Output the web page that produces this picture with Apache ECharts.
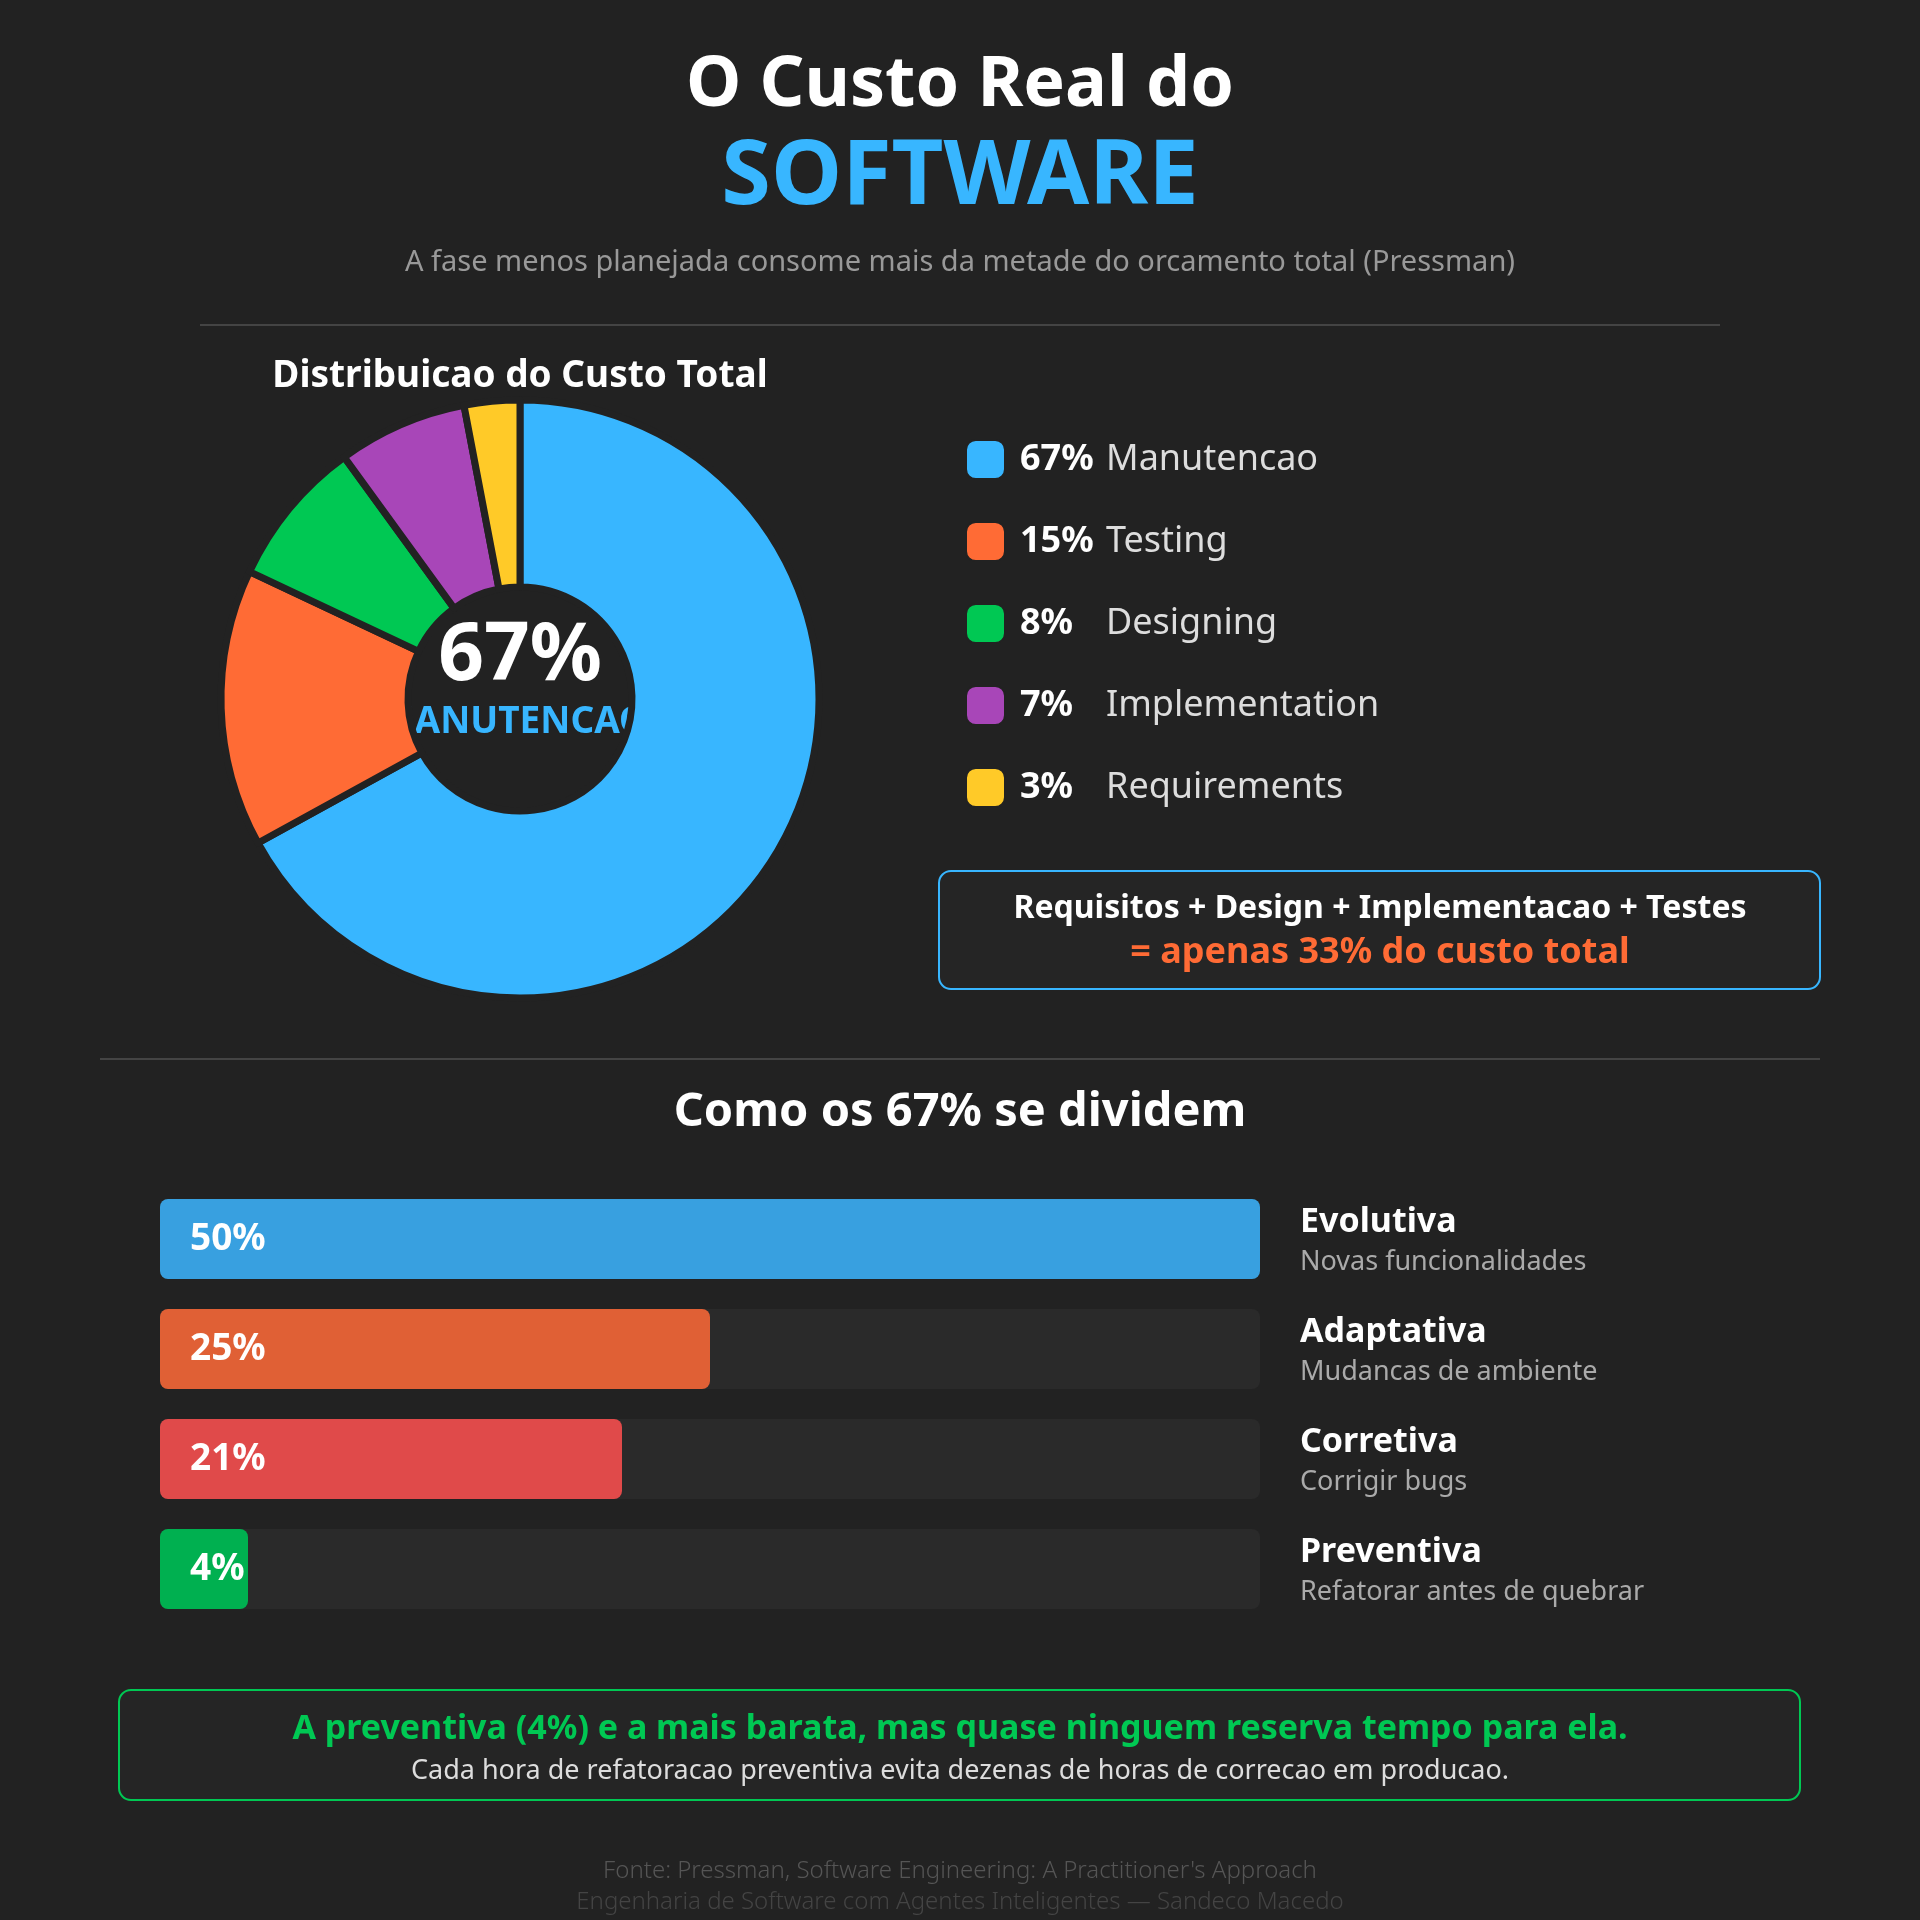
<!DOCTYPE html>
<html><head><meta charset="utf-8">
<script src="https://cdn.jsdelivr.net/npm/echarts@6/dist/echarts.min.js"></script>
<style>html,body{margin:0;padding:0;background:#222222}#c{width:1920px;height:1920px}</style>
</head><body><div id="c"></div>
<script>
const phases = ['Manutencao','Testing','Designing','Implementation','Requirements'];
const phaseValues = [67,15,8,7,3];
const phaseColors = ['#38b6ff','#ff6b35','#00c853','#a846b8','#ffca28'];
const maintTypes = ['Evolutiva','Adaptativa','Corretiva','Preventiva'];
const maintDesc = ['Novas funcionalidades','Mudancas de ambiente','Corrigir bugs','Refatorar antes de quebrar'];
const maintValues = [50,25,21,4];
const maintColors = ['#38a0e0','#e06035','#e04a4a','#00b050'];
const F = '"Noto Sans", "Open Sans", sans-serif';

const chart = echarts.init(document.getElementById('c'));
const txt = (x,y,t,size,color,weight,align) => ({type:'text',x,y,z:0,style:{text:t,font:`${weight||'normal'} ${size}px ${F}`,fill:color,textAlign:align||'center',textVerticalAlign:'middle'}});
chart.setOption({
  backgroundColor:'#222222',
  animation:false,
  graphic:[
    txt(960,86,'O Custo Real do',70,'#ffffff','bold'),
    txt(960,178,'SOFTWARE',90,'#38b6ff','bold'),
    txt(960,263,'A fase menos planejada consome mais da metade do orcamento total (Pressman)',29,'#999999'),
    {type:'line',shape:{x1:200,y1:325,x2:1720,y2:325},style:{stroke:'#444',lineWidth:2}},
    txt(520,376,'Distribuicao do Custo Total',37,'#ffffff','bold'),
    txt(520,657,'67%',80,'#ffffff','bold'),
    txt(514,722,'MANUTENCAO',37,'#38b6ff','bold'),
    {type:'rect',z:0,shape:{x:939,y:871,width:881,height:118,r:12},style:{fill:'#252525',stroke:'#38b6ff',lineWidth:2}},
    txt(1380,909,'Requisitos + Design + Implementacao + Testes',32,'#ffffff','bold'),
    txt(1380,953,'= apenas 33% do custo total',36,'#ff6b35','bold'),
    {type:'line',shape:{x1:100,y1:1059,x2:1820,y2:1059},style:{stroke:'#444',lineWidth:2}},
    txt(960,1113,'Como os 67% se dividem',47,'#ffffff','bold'),
    {type:'rect',z:0,shape:{x:119,y:1690,width:1681,height:110,r:12},style:{fill:'#252525',stroke:'#00c853',lineWidth:2}},
    txt(960,1729,'A preventiva (4%) e a mais barata, mas quase ninguem reserva tempo para ela.',34,'#00c853','bold'),
    txt(960,1771,'Cada hora de refatoracao preventiva evita dezenas de horas de correcao em producao.',27,'#dddddd'),
    txt(960,1871,'Fonte: Pressman, Software Engineering: A Practitioner\'s Approach',24,'#555555','300'),
    txt(960,1902,'Engenharia de Software com Agentes Inteligentes — Sandeco Macedo',24,'#444444','300')
  ],
  legend:{
    orient:'vertical',left:960,top:434,itemWidth:39,itemHeight:39,itemGap:41,icon:'roundRect',
    data:phases,selectedMode:false,
    formatter:n=>{const i=phases.indexOf(n);return `{p|${phaseValues[i]}%}{n|${n}}`;},
    textStyle:{rich:{p:{fontFamily:F,fontSize:36,fontWeight:'bold',color:'#ffffff',width:86,padding:[0,0,0,10]},n:{fontFamily:F,fontSize:36,color:'#dddddd'}}}
  },
  grid:{left:160,width:1100,top:1184,height:440},
  xAxis:{type:'value',min:0,max:50,show:false},
  yAxis:{type:'category',data:maintTypes,inverse:true,position:'right',axisLine:{show:false},axisTick:{show:false},
    axisLabel:{margin:40,align:'left',formatter:(v,i)=>`{t|${v}}\n{d|${maintDesc[i]}}`,
      rich:{t:{fontFamily:F,fontSize:34,fontWeight:'bold',color:'#ffffff',lineHeight:46},d:{fontFamily:F,fontSize:27,color:'#aaaaaa',lineHeight:34}}}},
  series:[
    {type:'pie',z:2,center:[520,699],radius:[112,299],startAngle:90,clockwise:true,label:{show:false},labelLine:{show:false},
      itemStyle:{borderColor:'#222222',borderWidth:7},emphasis:{disabled:true},
      data:phases.map((n,i)=>({name:n,value:phaseValues[i],itemStyle:{color:phaseColors[i]}}))},
    {type:'bar',barWidth:80,showBackground:true,backgroundStyle:{color:'#2a2a2a',borderRadius:8},
      data:maintValues.map((v,i)=>({value:v,itemStyle:{color:maintColors[i],borderRadius:8}})),
      label:{show:true,position:'insideLeft',distance:30,formatter:'{c}%',fontFamily:F,fontSize:37,fontWeight:'bold',color:'#ffffff'}}
  ]
});
</script></body></html>
